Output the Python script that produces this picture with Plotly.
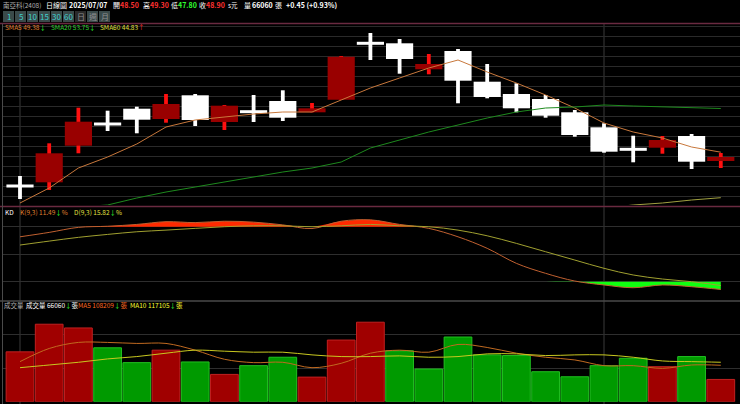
import plotly.graph_objects as go

W, H = 740, 404
idx = list(range(25))
opens  = [46.0,46.37,50.03,52.3,53.73,52.7,55.07,52.4,53.43,54.5,53.37,54.63,60.27,60.27,57.67,59.5,56.43,55.2,54.7,53.37,51.87,49.67,49.83,51.0,48.5]
closes = [46.0,49.27,52.43,52.2,52.63,54.2,52.6,54.03,53.43,52.83,53.77,58.93,60.27,58.7,58.2,56.53,54.9,53.77,53.03,51.1,49.43,49.67,50.6,48.43,48.9]
highs  = [47.0,50.27,53.83,53.53,53.93,55.2,55.2,54.1,55.1,55.57,54.3,59.0,61.3,60.7,59.2,59.7,58.2,56.27,55.1,53.6,52.27,51.03,51.0,51.2,49.3]
lows   = [44.7,45.6,49.27,51.5,51.27,52.33,52.0,51.6,52.4,52.5,53.37,54.6,58.6,57.23,57.17,54.27,54.77,53.37,52.83,50.93,49.33,48.37,49.23,47.7,47.8]
sma5  = [44.3,45.8,47.8,48.9,50.2,51.9,52.6,52.9,53.2,53.4,53.4,54.6,55.8,56.8,57.8,58.6,57.4,56.3,55.1,53.8,52.3,51.4,50.8,49.9,49.38]
sma20 = [None,None,43.9,44.1,44.8,45.4,45.9,46.4,46.9,47.4,47.8,48.4,49.8,50.6,51.4,52.1,52.8,53.4,53.8,53.9,54.1,54.0,53.9,53.8,53.75]
sma60 = [None]*19 + [43.6,43.8,44.1,44.3,44.6,44.83]
k_vals = [69,73.8,79.3,80.5,82.5,85.5,84.5,86,85,82,78,86,87.5,82.5,78.2,69,56.4,40,29.1,20.7,16.4,13.4,16.4,14.5,11.49]
d_vals = [60,64.3,68.4,71.6,74.5,76.3,78.2,80,81,81,80,81,82.5,81,80,76.3,70.1,61.8,52.7,43.6,34.6,27.3,22.9,20,15.82]
volume = [148000,230000,219000,160000,116000,153000,118000,81000,107000,132000,73000,183000,236000,151000,97000,192000,139000,137000,89000,74000,107000,129000,104000,134000,66060]
vol_up = [1,1,1,0,0,1,0,1,0,0,1,1,1,0,0,0,0,0,0,0,0,0,1,0,1]
vol_ma5  = [119000,158000,176000,176000,173000,173000,153000,126000,116000,117000,101000,114000,144000,153000,147000,170000,161000,144000,132000,124000,107000,107000,99000,109000,108209]
vol_ma10 = [101000,109000,117000,127000,134000,144000,153000,150000,147000,147000,139000,134000,134000,136000,132000,134000,142000,142000,137000,139000,139000,132000,121000,119000,117105]

def py(p):
    return 1 - p / H

fig = go.Figure()
up = [c > o + 0.01 for o, c in zip(opens, closes)]
wick_col = ['#ff1010' if u else '#ffffff' for u in up]
body_col = ['#990000' if u else '#ffffff' for u in up]
fig.add_trace(go.Bar(x=idx, y=[h - l for h, l in zip(highs, lows)], base=lows, width=0.13,
                     marker=dict(color=wick_col, line_width=0), xaxis='x', yaxis='y'))
bb = [min(o, c) for o, c in zip(opens, closes)]
bh = [max(abs(c - o), 0.3) for o, c in zip(opens, closes)]
bb = [b - 0.15 if abs(c - o) < 0.3 else b for b, o, c in zip(bb, opens, closes)]
fig.add_trace(go.Bar(x=idx, y=bh, base=bb, width=0.93,
                     marker=dict(color=body_col, line_width=0), xaxis='x', yaxis='y'))
fig.add_trace(go.Scatter(x=idx, y=sma5, mode='lines', line=dict(color='#c8783c', width=1), xaxis='x', yaxis='y'))
fig.add_trace(go.Scatter(x=idx, y=sma20, mode='lines', line=dict(color='#1e8a1e', width=1), xaxis='x', yaxis='y'))
fig.add_trace(go.Scatter(x=idx, y=sma60, mode='lines', line=dict(color='#a0a040', width=1), xaxis='x', yaxis='y'))

fig.add_trace(go.Scatter(x=idx, y=[80]*25, mode='lines', line=dict(width=0), xaxis='x', yaxis='y2'))
fig.add_trace(go.Scatter(x=idx, y=[max(k, 80) for k in k_vals], mode='lines', line=dict(width=0, shape='spline'),
                         fill='tonexty', fillcolor='#ff2a00', xaxis='x', yaxis='y2'))
fig.add_trace(go.Scatter(x=idx, y=[20]*25, mode='lines', line=dict(width=0), xaxis='x', yaxis='y2'))
fig.add_trace(go.Scatter(x=idx, y=[min(k, 20) for k in k_vals], mode='lines', line=dict(width=0, shape='spline'),
                         fill='tonexty', fillcolor='#10ff10', xaxis='x', yaxis='y2'))
fig.add_trace(go.Scatter(x=idx, y=k_vals, mode='lines', line=dict(color='#c06030', width=1, shape='spline'), xaxis='x', yaxis='y2'))
fig.add_trace(go.Scatter(x=idx, y=d_vals, mode='lines', line=dict(color='#a0a030', width=1, shape='spline'), xaxis='x', yaxis='y2'))

fig.add_trace(go.Bar(x=idx, y=volume, width=0.95,
                     marker=dict(color=['#a00000' if u else '#009a00' for u in vol_up],
                                 line=dict(color=['#c02020' if u else '#20c020' for u in vol_up], width=1)),
                     xaxis='x', yaxis='y3'))
fig.add_trace(go.Scatter(x=idx, y=vol_ma5, mode='lines', line=dict(color='#c06a20', width=1, shape='spline'), xaxis='x', yaxis='y3'))
fig.add_trace(go.Scatter(x=idx, y=vol_ma10, mode='lines', line=dict(color='#c8c820', width=1, shape='spline'), xaxis='x', yaxis='y3'))

xr = [-17 / 29.2, 720 / 29.2]
ax_common = dict(showticklabels=False, zeroline=False, showline=False, ticks='')
fig.update_layout(
    width=W, height=H, margin=dict(l=0, r=0, t=0, b=0), paper_bgcolor='#000000', plot_bgcolor='#000000',
    showlegend=False, barmode='overlay', hovermode=False,
    xaxis=dict(range=xr, domain=[3 / W, 1], showgrid=False, **ax_common),
    yaxis=dict(range=[48.9 - 48 / 10, 48.9 + 133 / 10], domain=[py(205), py(24)], dtick=1, tick0=0,
               gridcolor='#2a2a2a', gridwidth=1, **ax_common),
    yaxis2=dict(range=[0, 100], domain=[py(300), py(208.4)], tickvals=[20, 50, 80],
                gridcolor='#2e2e2e', **ax_common),
    yaxis3=dict(range=[0, 296000], domain=[py(401.7), py(302)], tickvals=[100000, 200000],
                gridcolor='#2e2e2e', **ax_common),
)

shapes = []
for xi in [0, 20]:
    shapes.append(dict(type='line', xref='x', yref='paper', x0=xi, x1=xi, y0=0, y1=py(24),
                       line=dict(color='#3a3a3a', width=1), layer='below'))
for yp, col in [(23.5, '#6a2a40'), (206.5, '#6a2a40'), (301, '#4a4a4a')]:
    shapes.append(dict(type='line', xref='paper', yref='paper', x0=0, x1=1, y0=py(yp), y1=py(yp),
                       line=dict(color=col, width=1.5)))
shapes.append(dict(type='line', xref='paper', yref='paper', x0=2.5 / W, x1=2.5 / W, y0=0, y1=py(23.5),
                   line=dict(color='#4a4a4a', width=1)))
btns = ['1', '5', '10', '15', '30', '60', '日', '週', '月']
bx = [3, 15, 27, 39, 51, 63, 75, 87, 99]
for b, x0 in zip(btns, bx):
    shapes.append(dict(type='rect', xref='paper', yref='paper', x0=x0 / W, x1=(x0 + 11) / W, y0=py(22), y1=py(11),
                       fillcolor='#3a4a4a' if b != '日' else '#2a2a2a', line=dict(width=0)))
fig.update_layout(shapes=shapes)

F = 'Noto Sans CJK TC'
def ann(x, y, text, size=9, color='#ffffff'):
    fig.add_annotation(xref='paper', yref='paper', x=x / W, y=py(y), text=text, showarrow=False,
                       xanchor='left', yanchor='middle', font=dict(family=F, size=size, color=color))

def sp(c, t):
    return f"<span style='color:{c}'>{t}</span>"

RED, GRN = '#ff3030', '#30ff30'
ann(1, 5, sp('#b0b0b0', '南亞科(2408)'), 6.5)
ann(44, 5, '日線圖', 7)
ann(67, 5, '<b>2025/07/07</b>', 7)
ann(111, 5, '開', 7); ann(118, 5, sp(RED, '<b>48.50</b>'), 7)
ann(141, 5, '高', 7); ann(148, 5, sp(RED, '<b>49.30</b>'), 7)
ann(169, 5, '低', 7); ann(176, 5, sp(GRN, '<b>47.80</b>'), 7)
ann(197, 5, '收', 7); ann(204, 5, sp(RED, '<b>48.90</b>'), 7)
ann(226, 5, 's元', 6.5)
ann(242, 5, '量', 7); ann(250, 5, '<b>66060</b>', 7); ann(273, 5, '張', 7)
ann(284, 5, '<b>+0.45 (+0.93%)</b>', 7)
for b, x0 in zip(btns, bx):
    fig.add_annotation(xref='paper', yref='paper', x=(x0 + 5.5) / W, y=py(16.5), text=b, showarrow=False,
                       xanchor='center', yanchor='middle', font=dict(family=F, size=8, color='#40d0d0' if b not in '日週月' else '#909090'))
ann(3, 27.5, sp('#e08030', 'SMA5 49.38') + sp(GRN, '↓'), 6.5)
ann(49, 27.5, sp('#30d030', 'SMA20 53.75') + sp(GRN, '↓'), 6.5)
ann(98, 27.5, sp('#e0e040', 'SMA60 44.83') + sp(RED, '↑'), 6.5)
ann(3, 212, 'KD', 6.5)
ann(18, 212, sp('#e08030', 'K(9,3) 11.49') + sp(GRN, '↓') + sp('#e08030', '%'), 6.5)
ann(72, 212, sp('#e0e040', 'D(9,3) 15.82') + sp(GRN, '↓') + sp('#e0e040', '%'), 6.5)
ann(2, 304.5, sp('#b0b0b0', '成交量'), 6.5)
ann(24, 304.5, sp('#ffffff', '成交量 66060') + sp(GRN, '↓') + sp('#ffffff', '張'), 6.5)
ann(76, 304.5, sp('#ff6a20', 'MA5 108209') + sp(GRN, '↓') + sp('#ff6a20', '張'), 6.5)
ann(128, 304.5, sp('#ffff30', 'MA10 117105') + sp(GRN, '↓') + sp('#ffff30', '張'), 6.5)

fig.write_html('out.html', config={'displayModeBar': False},
               post_script="document.body.style.margin='0';document.body.style.background='#000';")
